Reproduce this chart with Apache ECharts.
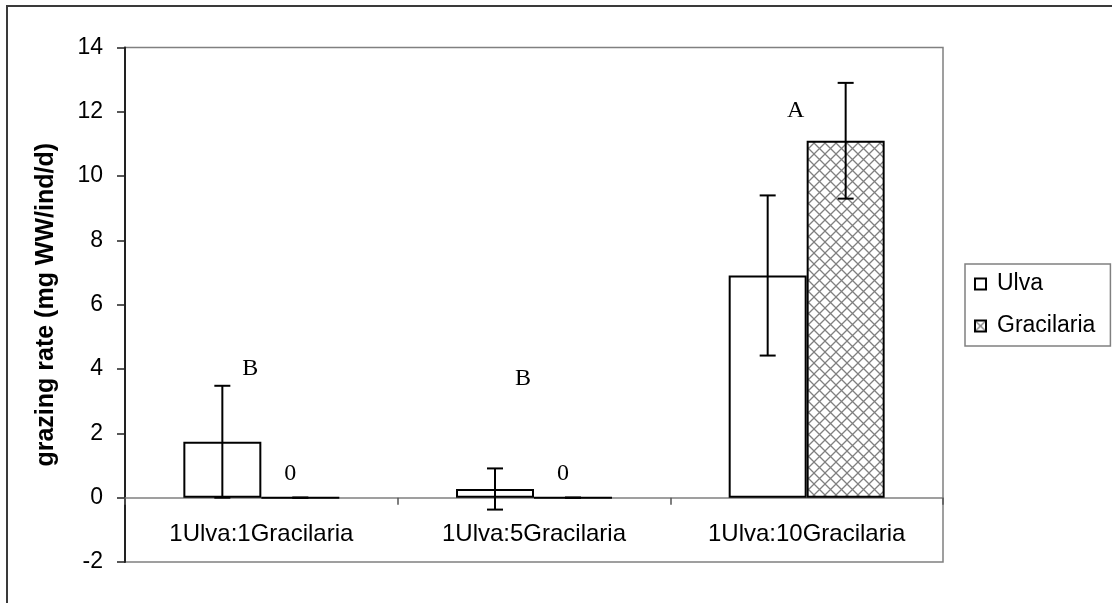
<!DOCTYPE html>
<html>
<head>
<meta charset="utf-8">
<script src="https://cdn.jsdelivr.net/npm/echarts@6/dist/echarts.min.js"></script>
<style>
  html, body { margin: 0; padding: 0; background: #fff; }
  #chart { width: 1112px; height: 603px; }
</style>
</head>
<body>
<div id="chart"></div>
<script>
// Feeding treatments (Ulva : Gracilaria ratio)
const categories = ['1Ulva:1Gracilaria', '1Ulva:5Gracilaria', '1Ulva:10Gracilaria'];
const seriesNames = ['Ulva', 'Gracilaria'];

// Mean grazing rate and standard error (mg WW/ind/d)
const ulvaMean = [1.74, 0.27, 6.91];
const ulvaSE = [1.74, 0.64, 2.49];
const gracilariaMean = [0, 0, 11.1];
const gracilariaSE = [0, 0, 1.8];

// Value axis range and step
const yMin = -2;
const yMax = 14;
const yStep = 2;

// Significance groups printed above each treatment
const groupLetters = ['B', 'B', 'A'];
const letterHeights = [4.0, 3.7, 12.05];

const SANS = 'Liberation Sans, Arial, sans-serif';
const SERIF = 'Liberation Serif, Times New Roman, serif';
const CAT_GAP = 0.428;                 // share of a category left empty
const BAR_FRAC = (1 - CAT_GAP) / 2;    // width of one bar within a category

// Cross-hatch fill used for Gracilaria bars
function hatchTile() {
  const s = 11;
  const c = document.createElement('canvas');
  c.width = s; c.height = s;
  const g = c.getContext('2d');
  g.fillStyle = '#ffffff';
  g.fillRect(0, 0, s, s);
  g.strokeStyle = '#808080';
  g.lineWidth = 1.3;
  g.beginPath();
  g.moveTo(-1, -1); g.lineTo(s + 1, s + 1);
  g.moveTo(s + 1, -1); g.lineTo(-1, s + 1);
  g.stroke();
  return c;
}
const hatch = { image: hatchTile(), repeat: 'repeat' };

const errorData = [];
categories.forEach((_, i) => {
  errorData.push([i, ulvaMean[i], ulvaSE[i], -1]);
  errorData.push([i, gracilariaMean[i], gracilariaSE[i], 1]);
});

function renderError(params, api) {
  const cat = api.value(0), mean = api.value(1), se = api.value(2), side = api.value(3);
  const bw = api.size([1, 0])[0] * BAR_FRAC;
  const x = api.coord([cat, mean])[0] + side * bw / 2;
  const yTop = api.coord([cat, mean + se])[1];
  const yBot = api.coord([cat, mean - se])[1];
  const cap = 8;
  const st = { stroke: '#000', lineWidth: 2 };
  return {
    type: 'group',
    children: [
      { type: 'line', shape: { x1: x, y1: yTop, x2: x, y2: yBot }, style: st },
      { type: 'line', shape: { x1: x - cap, y1: yTop, x2: x + cap, y2: yTop }, style: st },
      { type: 'line', shape: { x1: x - cap, y1: yBot, x2: x + cap, y2: yBot }, style: st }
    ]
  };
}

function renderLetter(params, api) {
  const i = api.value(0);
  const p = api.coord([i, api.value(1)]);
  return {
    type: 'text',
    x: p[0] - 11,
    y: p[1],
    style: {
      text: groupLetters[i],
      font: '24px ' + SERIF,
      fill: '#000',
      align: 'center',
      verticalAlign: 'middle'
    }
  };
}

// Treatment names sit just under the zero line
function renderCategoryName(params, api) {
  const i = api.value(0);
  const p = api.coord([i, 0]);
  return {
    type: 'text',
    x: p[0],
    y: p[1] + 37,
    style: {
      text: categories[i],
      font: '24px ' + SANS,
      fill: '#000',
      align: 'center',
      verticalAlign: 'middle'
    }
  };
}

const chart = echarts.init(document.getElementById('chart'), null, { renderer: 'canvas' });

chart.setOption({
  animation: false,
  backgroundColor: '#fff',
  graphic: [
    { type: 'rect', shape: { x: 6, y: 5, width: 1120, height: 2 }, style: { fill: '#3a3a3a' }, silent: true },
    { type: 'rect', shape: { x: 6, y: 5, width: 2, height: 610 }, style: { fill: '#3a3a3a' }, silent: true }
  ],
  grid: {
    left: 125, top: 47.5, right: 169, bottom: 41,
    show: true, borderColor: '#808080', borderWidth: 1.5, backgroundColor: 'transparent'
  },
  legend: {
    data: seriesNames,
    orient: 'vertical',
    left: 965,
    top: 264,
    backgroundColor: '#fff',
    borderColor: '#808080',
    borderWidth: 1.5,
    borderRadius: 0,
    padding: [7, 15, 7, 9],
    itemWidth: 11,
    itemHeight: 11,
    itemGap: 16,
    icon: 'rect',
    textStyle: { fontFamily: SANS, fontSize: 23, color: '#000', lineHeight: 26, padding: [0, 0, 0, 6] }
  },
  xAxis: {
    type: 'category',
    data: categories,
    axisLine: { onZero: true, lineStyle: { color: '#808080', width: 1.5 } },
    axisTick: { show: true, length: 7, lineStyle: { color: '#555', width: 1.5 } },
    axisLabel: { show: false },
    splitLine: { show: false }
  },
  yAxis: {
    type: 'value',
    min: yMin,
    max: yMax,
    interval: yStep,
    name: 'grazing rate (mg WW/ind/d)',
    nameLocation: 'middle',
    nameRotate: 90,
    nameGap: 66,
    nameTextStyle: { fontFamily: SANS, fontSize: 25, fontWeight: 'bold', color: '#000' },
    axisLine: { show: true, onZero: false, lineStyle: { color: '#222', width: 2 } },
    axisTick: { show: true, length: 8, lineStyle: { color: '#222', width: 1.5 } },
    axisLabel: { fontFamily: SANS, fontSize: 23, color: '#000', margin: 22 },
    splitLine: { show: false }
  },
  series: [
    {
      name: 'Ulva',
      type: 'bar',
      data: ulvaMean,
      barGap: '0%',
      barCategoryGap: (CAT_GAP * 100) + '%',
      itemStyle: { color: '#fff', borderColor: '#000', borderWidth: 2 }
    },
    {
      name: 'Gracilaria',
      type: 'bar',
      data: gracilariaMean.map(v => ({
        value: v,
        label: {
          show: v === 0,
          position: 'top',
          distance: 11,
          offset: [-10, 0],
          formatter: '{c}',
          fontFamily: SERIF,
          fontSize: 24,
          color: '#000'
        }
      })),
      barGap: '0%',
      barCategoryGap: (CAT_GAP * 100) + '%',
      itemStyle: { color: hatch, borderColor: '#000', borderWidth: 2 }
    },
    {
      type: 'custom',
      renderItem: renderError,
      data: errorData,
      encode: { x: 0, y: 1 },
      z: 5,
      silent: true
    },
    {
      type: 'custom',
      renderItem: renderLetter,
      data: letterHeights.map((h, i) => [i, h]),
      encode: { x: 0, y: 1 },
      z: 6,
      silent: true
    },
    {
      type: 'custom',
      renderItem: renderCategoryName,
      data: categories.map((_, i) => [i, 0]),
      encode: { x: 0, y: 1 },
      clip: false,
      z: 6,
      silent: true
    }
  ]
});
</script>
</body>
</html>
